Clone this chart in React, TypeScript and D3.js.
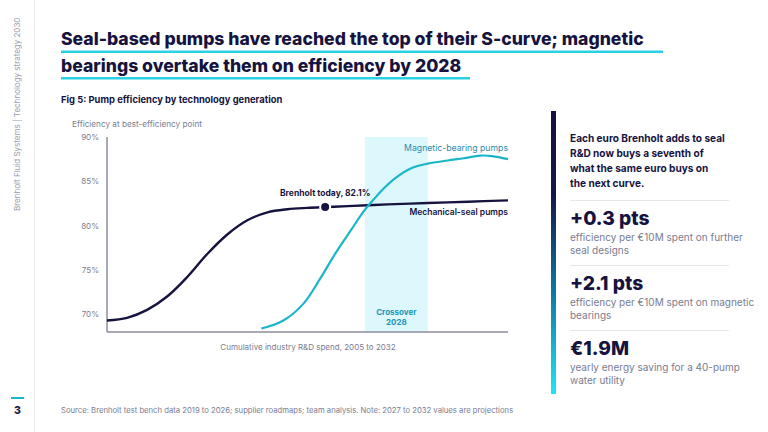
import React from 'react';
import * as d3 from 'd3';

// spend index 0..100 (cumulative industry R&D spend, 2005 to 2032)
const mechSpend = [0, 5, 10, 15, 20, 25, 30, 35, 40, 45, 50, 55, 60, 70, 80, 90, 100];
const mechEff = [69.3, 69.6, 70.5, 72.0, 74.2, 76.8, 79.0, 80.6, 81.5, 81.85, 82.0, 82.1, 82.2, 82.4, 82.55, 82.7, 82.85];

const magSpend = [38.5, 44, 49, 53, 57, 61, 64, 66, 69, 72, 76, 80, 85, 89, 93, 96, 100];
const magEff = [68.4, 69.3, 71.2, 73.9, 76.9, 79.6, 81.6, 82.7, 84.2, 85.4, 86.5, 87.0, 87.35, 87.6, 87.9, 87.85, 87.5];

const todaySpend = 54.4;
const todayEff = 82.1;
const crossoverBand = [64.3, 80];
const yTicks = [70, 75, 80, 85, 90];

const titleLines = [
  'Seal-based pumps have reached the top of their S-curve; magnetic',
  'bearings overtake them on efficiency by 2028',
];
const introLines = [
  'Each euro Brenholt adds to seal',
  'R&D now buys a seventh of',
  'what the same euro buys on',
  'the next curve.',
];
const stats = [
  { value: '+0.3 pts', lines: ['efficiency per €10M spent on further', 'seal designs'] },
  { value: '+2.1 pts', lines: ['efficiency per €10M spent on magnetic', 'bearings'] },
  { value: '€1.9M', lines: ['yearly energy saving for a 40-pump', 'water utility'] },
];

const NAVY = '#16133f';
const CYAN = '#1bb5ca';
const GRAY = '#7a7c90';
const FONT = 'Inter, "Noto Sans", sans-serif';

const App: React.FC = () => {
  const x = d3.scaleLinear().domain([0, 100]).range([107, 508]);
  const y = d3.scaleLinear().domain([68, 90]).range([332, 137]);

  const line = d3
    .line<[number, number]>()
    .x(d => x(d[0]))
    .y(d => y(d[1]))
    .curve(d3.curveCatmullRom.alpha(0.5));

  const mech = line(mechSpend.map((s, i) => [s, mechEff[i]]) as [number, number][]) || '';
  const mag = line(magSpend.map((s, i) => [s, magEff[i]]) as [number, number][]) || '';

  const statTop = [225, 290, 355];
  const bandMid = (x(crossoverBand[0]) + x(crossoverBand[1])) / 2;

  return (
    <svg
      width={768}
      height={432}
      style={{ position: 'absolute', left: 0, top: 0, background: '#fff' }}
      fontFamily={FONT}
    >
      <defs>
        <linearGradient id="bar" x1="0" y1="0" x2="0" y2="1">
          <stop offset="0%" stopColor="#15123f" />
          <stop offset="30%" stopColor="#16184c" />
          <stop offset="65%" stopColor="#0d7ca6" />
          <stop offset="100%" stopColor="#1de6f4" />
        </linearGradient>
      </defs>

      {/* side rail */}
      <line x1={34.5} x2={34.5} y1={0} y2={432} stroke="#ececf0" strokeWidth={1} />
      <text transform="translate(20,211) rotate(-90)" fontSize={8} fill="#9a9cb0">
        Brenholt Fluid Systems | Technology strategy 2030
      </text>
      <line x1={11} x2={24} y1={398} y2={398} stroke={CYAN} strokeWidth={2} />
      <text x={17.5} y={414} fontSize={10.5} fontWeight={800} fill={NAVY} textAnchor="middle">
        3
      </text>

      {/* title */}
      {titleLines.map((t, i) => (
        <text key={t} x={61} y={45 + i * 26.5} fontSize={17.6} fontWeight={800} fill={NAVY}>
          {t}
        </text>
      ))}
      <rect x={61} y={50.5} width={602} height={2.5} fill="#2ad0e4" />
      <rect x={61} y={77} width={409} height={2.5} fill="#2ad0e4" />

      <text x={61} y={102.5} fontSize={9.4} fontWeight={700} fill={NAVY}>
        Fig 5: Pump efficiency by technology generation
      </text>

      {/* chart */}
      <text x={72} y={127} fontSize={8.2} fill={GRAY}>
        Efficiency at best-efficiency point
      </text>
      <rect
        x={x(crossoverBand[0])}
        y={y(90)}
        width={x(crossoverBand[1]) - x(crossoverBand[0])}
        height={y(68) - y(90)}
        fill="#dcf8fc"
      />
      {yTicks.map(t => (
        <text key={t} x={99} y={y(t) + 3} fontSize={8} fill={GRAY} textAnchor="end">
          {t}%
        </text>
      ))}
      <line x1={107} x2={107} y1={y(90)} y2={y(68)} stroke="#8d8d9e" strokeWidth={1.5} />
      <line x1={107} x2={508} y1={y(68)} y2={y(68)} stroke="#8d8d9e" strokeWidth={1.5} />
      <text x={308} y={349.5} fontSize={8} fill={GRAY} textAnchor="middle">
        Cumulative industry R&amp;D spend, 2005 to 2032
      </text>

      <text x={bandMid} y={314.5} fontSize={8} fontWeight={700} fill="#2195b8" textAnchor="middle">
        Crossover
      </text>
      <text x={bandMid} y={325} fontSize={8} fontWeight={700} fill="#2195b8" textAnchor="middle">
        2028
      </text>

      <path d={mech} fill="none" stroke={NAVY} strokeWidth={2.4} />
      <path d={mag} fill="none" stroke={CYAN} strokeWidth={2.2} />
      <circle cx={x(todaySpend)} cy={y(todayEff)} r={5} fill={NAVY} stroke="#fff" strokeWidth={2} />
      <text x={x(todaySpend)} y={195.5} fontSize={8.5} fontWeight={700} fill={NAVY} textAnchor="middle">
        Brenholt today, {todayEff}%
      </text>
      <text x={508} y={151} fontSize={8.7} fill="#2a8bb0" textAnchor="end">
        Magnetic-bearing pumps
      </text>
      <text x={508} y={214.5} fontSize={8.5} fontWeight={600} fill={NAVY} textAnchor="end">
        Mechanical-seal pumps
      </text>

      {/* right panel */}
      <rect x={551} y={111} width={5} height={283} fill="url(#bar)" />
      {introLines.map((t, i) => (
        <text key={t} x={570} y={141.5 + i * 15.2} fontSize={10.1} fontWeight={700} fill={NAVY}>
          {t}
        </text>
      ))}
      {stats.map((s, i) => (
        <g key={s.value}>
          <line x1={570} x2={729} y1={statTop[i] - 24.5} y2={statTop[i] - 24.5} stroke="#e6e6eb" strokeWidth={1} />
          <text x={570} y={statTop[i]} fontSize={19.2} fontWeight={800} fill={NAVY}>
            {s.value}
          </text>
          {s.lines.map((l, j) => (
            <text key={l} x={570} y={statTop[i] + 16 + j * 12.6} fontSize={10} fill={GRAY}>
              {l}
            </text>
          ))}
        </g>
      ))}

      <text x={61} y={413} fontSize={7.7} fill={GRAY}>
        Source: Brenholt test bench data 2019 to 2026; supplier roadmaps; team analysis. Note: 2027 to 2032 values are projections
      </text>
    </svg>
  );
};

export default App;
